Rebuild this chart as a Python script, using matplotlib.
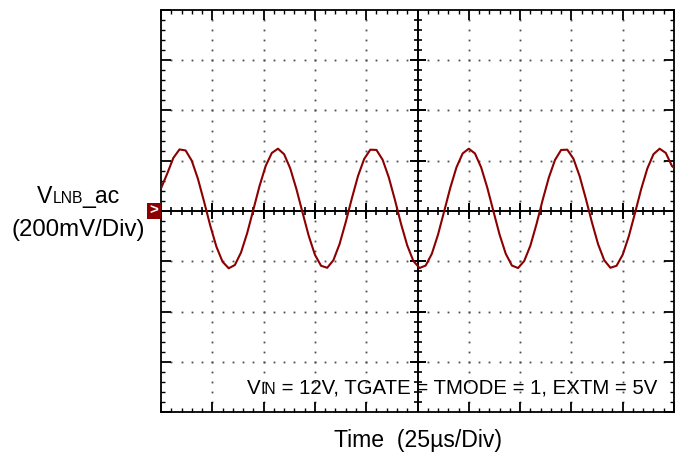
#!/usr/bin/env python3
"""Scope capture: LNB output AC ripple (22 kHz tone)."""

import numpy as np
import matplotlib.pyplot as plt
from matplotlib.patches import Rectangle

plt.rcParams['font.family'] = ['Liberation Sans', 'DejaVu Sans']

# trace samples: time in us, voltage in mV
t_us = [0, 3, 6, 9, 12, 15, 18, 21, 24, 27, 30, 33, 36, 39, 42, 45, 48, 51,
        54, 57, 60, 63, 66, 69, 72, 75, 78, 81, 84, 87, 90, 93, 96, 99, 102,
        105, 108, 111, 114, 117, 120, 123, 126, 129, 132, 135, 138, 141, 144,
        147, 150, 153, 156, 159, 162, 165, 168, 171, 174, 177, 180, 183, 186,
        189, 192, 195, 198, 201, 204, 207, 210, 213, 216, 219, 222, 225, 228,
        231, 234, 237, 240, 243, 246, 249, 250]
v_mv = [90, 148, 211, 245, 241, 200, 128, 37, -58, -142, -202, -228, -215,
        -165, -88, 5, 99, 179, 231, 248, 226, 169, 87, -7, -99, -174, -218,
        -226, -196, -132, -45, 50, 139, 207, 244, 243, 204, 134, 44, -52, -137,
        -199, -227, -217, -170, -94, -1, 93, 174, 229, 248, 229, 174, 93, -1,
        -94, -170, -217, -227, -199, -138, -52, 44, 133, 203, 243, 244, 208,
        139, 50, -45, -132, -196, -226, -218, -174, -100, -8, 87, 169, 226,
        248, 231, 179, 172]

time_div = 25      # us per division
volt_div = 200     # mV per division
n_xdiv, n_ydiv = 10, 8

W, H = 680, 455
fig = plt.figure(figsize=(W / 100, H / 100), dpi=100)
left, right, top, bottom = 161, 674, 10, 412
ax = fig.add_axes([left / W, 1 - bottom / H, (right - left) / W, (bottom - top) / H])

xmax = n_xdiv * time_div
ymax = n_ydiv / 2 * volt_div
ax.set_xlim(0, xmax)
ax.set_ylim(-ymax, ymax)

# border ticks (5 minor per division)
ax.set_xticks(np.arange(0, xmax + 1, time_div))
ax.set_xticks(np.arange(0, xmax + 1, time_div / 5), minor=True)
ax.set_yticks(np.arange(-ymax, ymax + 1, volt_div))
ax.set_yticks(np.arange(-ymax, ymax + 1, volt_div / 5), minor=True)
ax.tick_params(which='both', direction='in', top=True, right=True,
               labelbottom=False, labelleft=False, color='k')
ax.tick_params(which='major', length=7.5, width=1.3)
ax.tick_params(which='minor', length=3.2, width=1.0)
for s in ax.spines.values():
    s.set_linewidth(1.3)

# dotted graticule
dot = dict(ls='none', marker='s', ms=1.3, mew=0, color='0.3', zorder=1)
ys = np.arange(-ymax, ymax + 1, volt_div / 5)[1:-1]
xs = np.arange(0, xmax + 1, time_div / 5)[1:-1]
for k in range(1, n_xdiv):
    if k != n_xdiv // 2:
        ax.plot(np.full(len(ys), k * time_div), ys, **dot)
for k in range(-n_ydiv // 2 + 1, n_ydiv // 2):
    if k != 0:
        ax.plot(xs, np.full(len(xs), k * volt_div), **dot)

# centre cross with tick marks
ax.axhline(0, color='k', lw=1.4, zorder=2)
ax.axvline(xmax / 2, color='k', lw=1.4, zorder=2)
ax.plot(xs, np.zeros(len(xs)), ls='none', marker='|', ms=6, mew=1.2, color='k', zorder=2)
ax.plot(np.arange(time_div, xmax, time_div), np.zeros(n_xdiv - 1), ls='none',
        marker='|', ms=11, mew=1.4, color='k', zorder=2)
ax.plot(np.full(len(ys), xmax / 2), ys, ls='none', marker='_', ms=6, mew=1.2, color='k', zorder=2)
ax.plot(np.full(n_ydiv - 1, xmax / 2), np.arange(-ymax + volt_div, ymax, volt_div),
        ls='none', marker='_', ms=11, mew=1.4, color='k', zorder=2)

ax.plot(t_us, v_mv, color='#8b0000', lw=1.5, zorder=3,
        solid_joinstyle='round', solid_capstyle='round')


def fx(px):
    return px / W


def fy(py):
    return 1 - py / H


def run_text(x0, y0, pieces):
    """Draw text pieces one after another on a common baseline (pixels)."""
    renderer = fig.canvas.get_renderer()
    x = x0
    for s, size in pieces:
        t = fig.text(fx(x), fy(y0), s, fontsize=size, va='baseline', ha='left')
        x = t.get_window_extent(renderer).x1


# channel label
run_text(37, 203.5, [("V", 16.7), ("LNB", 11.3), ("_ac", 16.7)])
fig.text(fx(78), fy(236), "(200mV/Div)", fontsize=17.3, ha='center', va='baseline')

# channel marker
fig.patches.append(Rectangle((fx(147), fy(219)), 14 / W, 16 / H, transform=fig.transFigure,
                             facecolor='#8b0000', edgecolor='none'))
fig.text(fx(154), fy(210.5), ">", color='white', fontsize=11, fontweight='bold',
         ha='center', va='center')

# conditions
run_text(247, 393.5, [("V", 14.8), ("IN", 11.3), (" = 12V, TGATE = TMODE = 1, EXTM = 5V", 14.7)])

fig.text(fx(418), fy(446.5), "Time  (25\u00b5s/Div)", fontsize=16.6, ha='center', va='baseline')

fig.savefig("out.png", dpi=100)
